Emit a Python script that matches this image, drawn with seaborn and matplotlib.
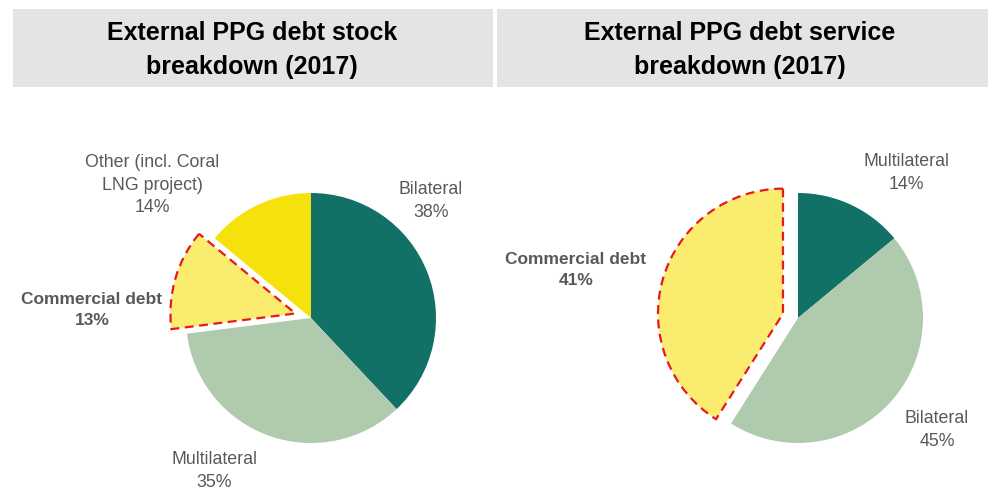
import matplotlib
matplotlib.use('Agg')
import matplotlib.pyplot as plt
from matplotlib.patches import Rectangle
import seaborn as sns

# data
stock_labels = ['Bilateral', 'Multilateral', 'Commercial debt', 'Other (incl. Coral\nLNG project)']
stock_values = [38, 35, 13, 14]
service_labels = ['Multilateral', 'Bilateral', 'Commercial debt']
service_values = [14, 45, 41]
titles = ['External PPG debt stock\nbreakdown (2017)', 'External PPG debt service\nbreakdown (2017)']

TEAL = '#117166'
SAGE = '#B0CAAE'
PALE = '#FAEC6E'
YELLOW = '#F5E10B'
RED = '#E8191E'
GREY_TXT = '#595959'

sns.set_theme(style='white')
plt.rcParams['font.family'] = ['Liberation Sans Narrow', 'Liberation Sans', 'DejaVu Sans']

W, H = 988, 494
R = 125.0  # pie radius in px

fig = plt.figure(figsize=(W / 100, H / 100), dpi=100)
fig.patch.set_facecolor('white')

# grey title boxes
for x0, x1, t, cx in [(13, 493, titles[0], 252), (497, 988, titles[1], 740)]:
    fig.patches.append(Rectangle((x0 / W, 1 - 87 / H), (x1 - x0) / W, 78 / H,
                                 transform=fig.transFigure, facecolor='#E4E4E4',
                                 edgecolor='none', zorder=0))
    fig.text(cx / W, 1 - 50 / H, t, ha='center', va='center', fontsize=18,
             fontweight='bold', color='black', linespacing=1.5)


def draw_pie(left_px, right_px, center_px, values, labels, colors, explode_idx, explode, label_pos):
    top_px = 95
    ax = fig.add_axes([left_px / W, 0, (right_px - left_px) / W, (H - top_px) / H])
    wedges, _ = ax.pie(values, colors=colors, startangle=90, counterclock=False,
                       explode=[explode if i == explode_idx else 0 for i in range(len(values))],
                       wedgeprops=dict(linewidth=0))
    w = wedges[explode_idx]
    w.set_edgecolor(RED)
    w.set_linewidth(1.6)
    w.set_linestyle((0, (4, 2.5)))
    cx, cy = center_px
    ax.set_aspect('auto')
    ax.set_xlim((left_px - cx) / R, (right_px - cx) / R)
    ax.set_ylim(-(H - cy) / R, (cy - top_px) / R)
    ax.axis('off')
    for i, (lab, val) in enumerate(zip(labels, values)):
        x, y = label_pos[i]
        bold = i == explode_idx
        ax.text(x, y, f'{lab}\n{val}%', ha='center', va='center',
                fontsize=12.5 if bold else 12.8,
                color=GREY_TXT, linespacing=1.45,
                fontweight='bold' if bold else 'normal')
    return ax


draw_pie(0, 494, (311, 318), stock_values, stock_labels, [TEAL, SAGE, PALE, YELLOW], 2, 0.13,
         [(0.96, 0.936), (-0.776, -1.224), (-1.752, 0.064), (-1.272, 1.064)])
draw_pie(494, 988, (798, 318), service_values, service_labels, [TEAL, SAGE, PALE], 2, 0.125,
         [(0.864, 1.16), (1.112, -0.896), (-1.776, 0.384)])

fig.savefig('out.png', dpi=100, facecolor='white')
